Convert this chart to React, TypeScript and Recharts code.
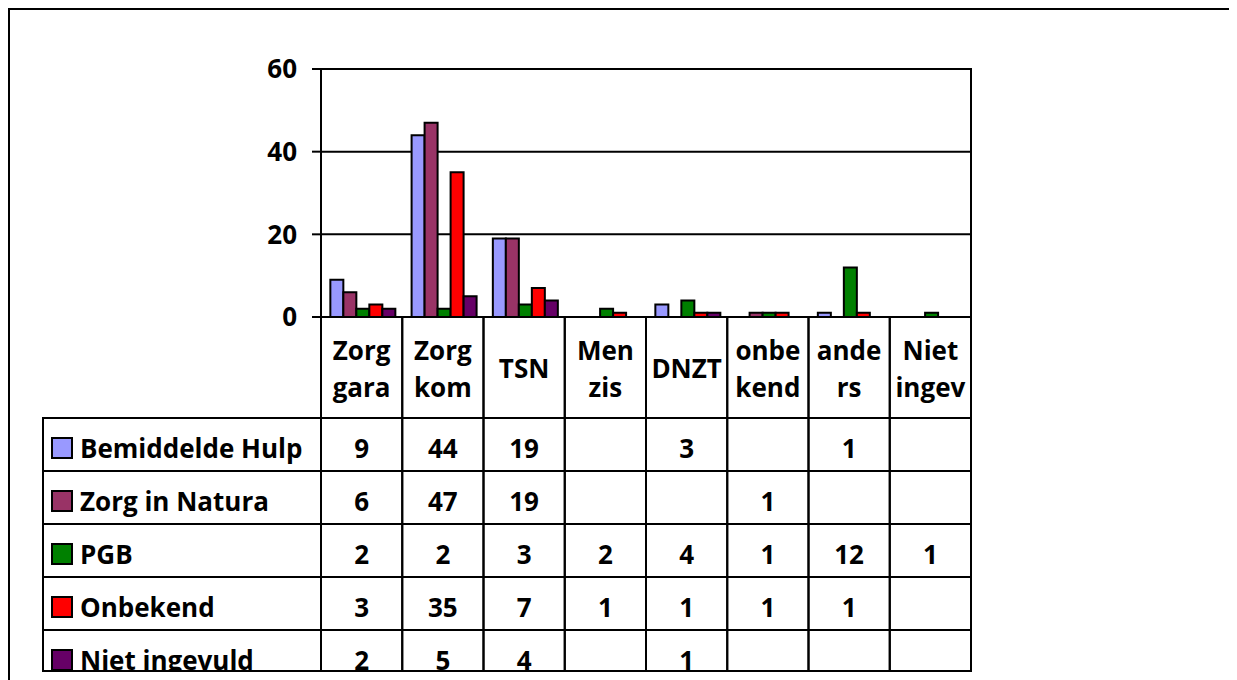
import React from 'react';
import { BarChart, Bar, XAxis, YAxis, CartesianGrid, ReferenceArea } from 'recharts';

const categories = ['Zorg gara', 'Zorg kom', 'TSN', 'Men zis', 'DNZT', 'onbe kend', 'ande rs', 'Niet ingev'];
const seriesNames = ['Bemiddelde Hulp', 'Zorg in Natura', 'PGB', 'Onbekend', 'Niet ingevuld'];
const seriesColors = ['#9999FF', '#993366', '#008000', '#FF0000', '#660066'];
const bemiddeldeHulp = [9, 44, 19, null, 3, null, 1, null];
const zorgInNatura = [6, 47, 19, null, null, 1, null, null];
const pgb = [2, 2, 3, 2, 4, 1, 12, 1];
const onbekend = [3, 35, 7, 1, 1, 1, 1, null];
const nietIngevuld = [2, 5, 4, null, 1, null, null, null];
const yTicks = [0, 20, 40, 60];

const seriesValues = [bemiddeldeHulp, zorgInNatura, pgb, onbekend, nietIngevuld];

const data = categories.map((name, i) => {
  const row: any = { name };
  seriesValues.forEach((s, k) => {
    row['s' + k] = s[i];
  });
  return row;
});

const W = 1229;
const H = 664;
const M_LEFT = 253;
const Y_W = 60;
const M_RIGHT = 266;
const M_TOP = 61;
const PLOT_W = W - M_LEFT - Y_W - M_RIGHT;
const BW = PLOT_W / categories.length;
const CAT_H = 101;
const ROW_H = 53;
const LAST_H = 42;
const TABLE_LEFT = 35;
const FONT = "'Open Sans', sans-serif";
const FS = 26;

const txt = {
  fontFamily: FONT,
  fontWeight: 700,
  fontSize: FS,
  fill: '#000',
} as const;

const CategoryTick = (props: any) => {
  const { x, y, index } = props;
  const lines = categories[index].split(' ');
  return (
    <g>
      <rect x={x - BW / 2} y={y} width={BW} height={CAT_H} fill="none" stroke="#000" strokeWidth={2} />
      {lines.length === 1 ? (
        <text x={x} y={y + 61} textAnchor="middle" style={txt}>
          {lines[0]}
        </text>
      ) : (
        lines.map((l, k) => (
          <text key={k} x={x} y={y + 43 + k * 37} textAnchor="middle" style={txt}>
            {l}
          </text>
        ))
      )}
    </g>
  );
};

const makeRowTick = (si: number) => (props: any) => {
  const { x, y, index } = props;
  const h = si === seriesValues.length - 1 ? LAST_H - 1 : ROW_H;
  const v = seriesValues[si][index];
  const left = x - BW / 2;
  return (
    <g>
      {index === 0 && (
        <g>
          <rect x={TABLE_LEFT} y={y} width={left - TABLE_LEFT} height={h} fill="none" stroke="#000" strokeWidth={2} />
          <rect x={TABLE_LEFT + 9} y={y + 20} width={20} height={20} fill={seriesColors[si]} stroke="#000" strokeWidth={2} />
          <text x={TABLE_LEFT + 37} y={y + 40} style={txt}>
            {seriesNames[si]}
          </text>
        </g>
      )}
      <rect x={left} y={y} width={BW} height={h} fill="none" stroke="#000" strokeWidth={2} />
      {v != null && (
        <text x={x} y={y + 40} textAnchor="middle" style={txt}>
          {v}
        </text>
      )}
    </g>
  );
};

export default function App() {
  return (
    <div style={{ position: 'relative', width: W, height: 672, overflow: 'hidden', background: '#fff' }}>
      <div style={{ position: 'absolute', left: 0, top: 0, width: '100%', height: 2, background: '#000' }} />
      <div style={{ position: 'absolute', left: 0, top: 0, width: 2, height: '100%', background: '#000' }} />
      <div style={{ position: 'absolute', left: 0, top: 0, width: W, height: H, overflow: 'hidden' }}>
        <BarChart
          width={W}
          height={H}
          data={data}
          margin={{ top: M_TOP, right: M_RIGHT, bottom: 0, left: M_LEFT }}
          barCategoryGap="11.5%"
          barGap={0}
        >
          <CartesianGrid horizontal vertical={false} stroke="#000" strokeWidth={2} />
          <ReferenceArea y1={0} y2={60} fill="none" stroke="#000" strokeWidth={2} fillOpacity={0} />
          <YAxis
            domain={[0, 60]}
            ticks={yTicks}
            interval={0}
            width={Y_W}
            tickSize={9}
            tickMargin={15}
            axisLine={{ stroke: '#000', strokeWidth: 2 }}
            tickLine={{ stroke: '#000', strokeWidth: 2 }}
            tick={txt}
          />
          <XAxis
            dataKey="name"
            interval={0}
            height={CAT_H}
            tickSize={0}
            tickMargin={0}
            axisLine={{ stroke: '#000', strokeWidth: 2 }}
            tickLine={false}
            tick={CategoryTick}
          />
          {seriesValues.map((_, si) => (
            <XAxis
              key={'row' + si}
              xAxisId={'row' + si}
              dataKey="name"
              interval={0}
              height={si === seriesValues.length - 1 ? LAST_H : ROW_H}
              tickSize={0}
              tickMargin={0}
              axisLine={false}
              tickLine={false}
              tick={makeRowTick(si)}
            />
          ))}
          {seriesNames.map((n, si) => (
            <Bar
              key={n}
              dataKey={'s' + si}
              name={n}
              fill={seriesColors[si]}
              stroke="#000"
              strokeWidth={2}
              isAnimationActive={false}
            />
          ))}
        </BarChart>
      </div>
    </div>
  );
}
